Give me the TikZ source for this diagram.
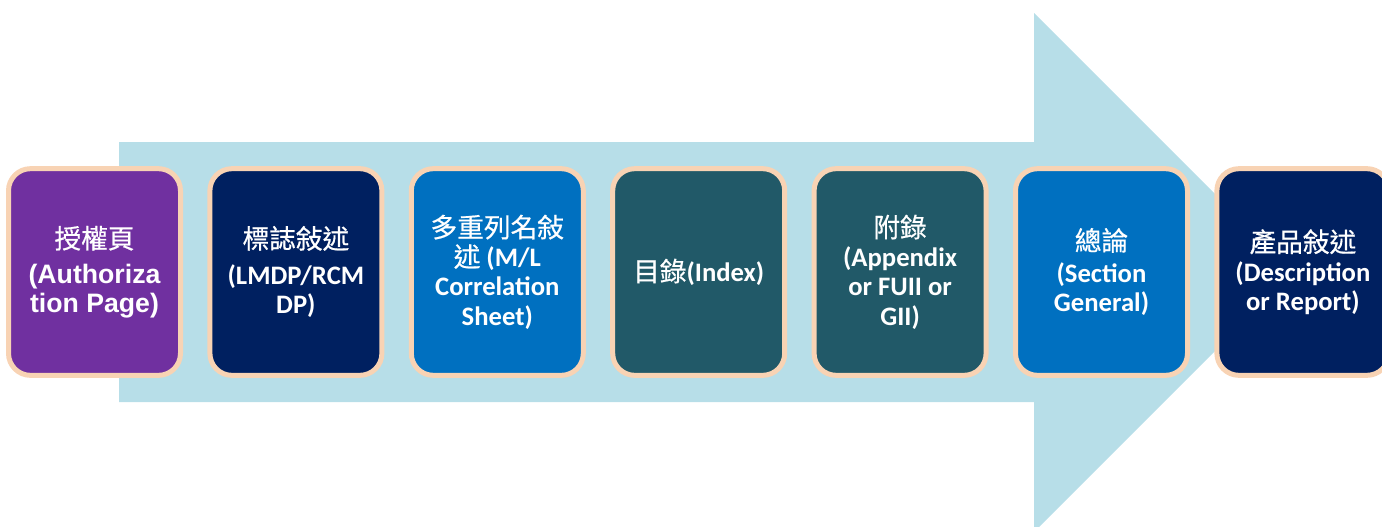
\documentclass[tikz,border=0pt]{standalone}
\usepackage{fontspec}
\setmainfont{Carlito}
\newfontfamily\arialfont{Liberation Sans}
\newfontfamily\cjk{Noto Sans CJK TC}[FakeBold=0.6]
\usetikzlibrary{positioning}

\definecolor{arrowblue}{HTML}{B7DEE8}
\definecolor{peach}{HTML}{F8D3B4}
\definecolor{authpurple}{HTML}{7030A0}
\definecolor{darknavy}{HTML}{002060}
\definecolor{midblue}{HTML}{0070C0}
\definecolor{darkteal}{HTML}{215968}

\newcommand{\zh}[1]{{\cjk\mdseries #1}}

\tikzset{
  stage/.style={draw=peach, line width=3.75pt, rounded corners=16.5pt,
    minimum width=129pt, minimum height=155pt, inner sep=2pt,
    text=white, align=center, font=\bfseries\fontsize{20}{22}\selectfont},
  arialstage/.style={stage, font=\arialfont\bfseries\fontsize{20}{21.5}\selectfont}
}

\begin{document}
\begin{tikzpicture}[x=0.75pt,y=-0.75pt]
	\path[use as bounding box, clip] (0,0) rectangle (1382,526);
	% big arrow behind the boxes
	\fill[arrowblue] (119,142) -- (1034,142) -- (1034,13) -- (1293.5,272.5)
		-- (1034,532) -- (1034,402) -- (119,402) -- cycle;
	% the stages
	\node[arialstage, fill=authpurple] (auth) at (94.5,272) {\zh{授權頁}\\[5pt](Authoriza\\tion Page)};
	\node[stage, fill=darknavy, right=18.3pt of auth] (lmdp) {\zh{標誌敍述}\\[5pt](LMDP/RCM\\DP)};
	\node[stage, fill=midblue, right=18.3pt of lmdp] (corr) {\zh{多重列名敍}\\\zh{述} (M/L\\Correlation\\Sheet)};
	\node[stage, fill=darkteal, right=18.3pt of corr] (index) {\zh{目錄}(Index)};
	\node[stage, fill=darkteal, right=18.3pt of index] (appx) {\zh{附錄}\\(Appendix\\or FUII or\\GII)};
	\node[stage, fill=midblue, right=18.3pt of appx] (gen) {\zh{總論}\\[2pt](Section\\General)};
	\node[stage, fill=darknavy, right=18.3pt of gen] (desc) {\zh{產品敍述}\\(Description\\or Report)};
\end{tikzpicture}
\end{document}
